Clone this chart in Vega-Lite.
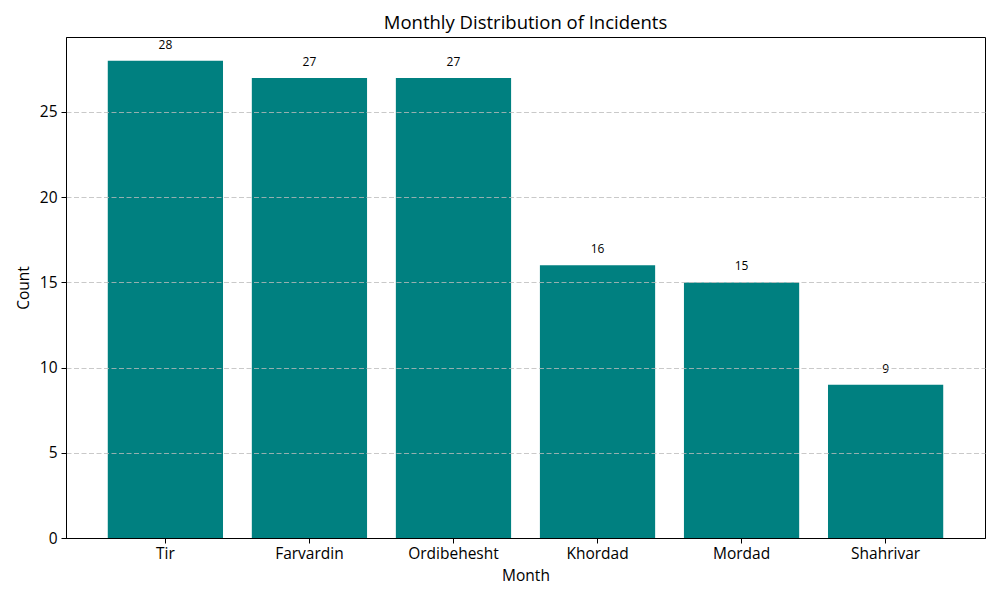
{
  "$schema": "https://vega.github.io/schema/vega-lite/v6.json",
  "autosize": "none",
  "width": 919,
  "height": 501,
  "padding": {"left": 66, "top": 37, "right": 15, "bottom": 62},
  "background": "white",
  "config": {
    "font": "Open Sans",
    "view": {"stroke": "black", "strokeWidth": 1}
  },
  "title": {
    "text": "Monthly Distribution of Incidents",
    "fontSize": 18.5,
    "fontWeight": "normal",
    "color": "black",
    "anchor": "middle",
    "offset": 5
  },
  "data": {
    "values": [
      {"Month": "Tir", "Count": 28},
      {"Month": "Farvardin", "Count": 27},
      {"Month": "Ordibehesht", "Count": 27},
      {"Month": "Khordad", "Count": 16},
      {"Month": "Mordad", "Count": 15},
      {"Month": "Shahrivar", "Count": 9}
    ]
  },
  "encoding": {
    "x": {
      "field": "Month",
      "type": "nominal",
      "sort": null,
      "scale": {"paddingInner": 0.2, "paddingOuter": 0.29},
      "axis": {
        "title": "Month",
        "labelAngle": 0,
        "labelFontSize": 15.5,
        "titleFontSize": 15.5,
        "titleFontWeight": "normal",
        "labelColor": "black",
        "titleColor": "black",
        "domainColor": "black",
        "tickColor": "black",
        "tickSize": 5,
        "labelPadding": 3,
        "titlePadding": 7,
        "grid": false
      }
    },
    "y": {
      "field": "Count",
      "type": "quantitative",
      "scale": {"domain": [0, 29.4], "nice": false},
      "axis": {
        "title": "Count",
        "values": [0, 5, 10, 15, 20, 25],
        "labelFontSize": 15.5,
        "titleFontSize": 15.5,
        "titleFontWeight": "normal",
        "labelColor": "black",
        "titleColor": "black",
        "domainColor": "black",
        "tickColor": "black",
        "tickSize": 5,
        "labelPadding": 4,
        "titlePadding": 8,
        "grid": true,
        "gridColor": "#bbbbbb",
        "gridOpacity": {"condition": {"test": "datum.value === 0", "value": 0}, "value": 1},
        "gridDash": [5, 2.5],
        "gridWidth": 0.8,
        "zindex": 1
      }
    }
  },
  "layer": [
    {"mark": {"type": "bar", "color": "#008080"}},
    {
      "mark": {"type": "text", "baseline": "bottom", "dy": -9, "fontSize": 12, "color": "black"},
      "encoding": {"text": {"field": "Count", "type": "quantitative"}}
    }
  ]
}
